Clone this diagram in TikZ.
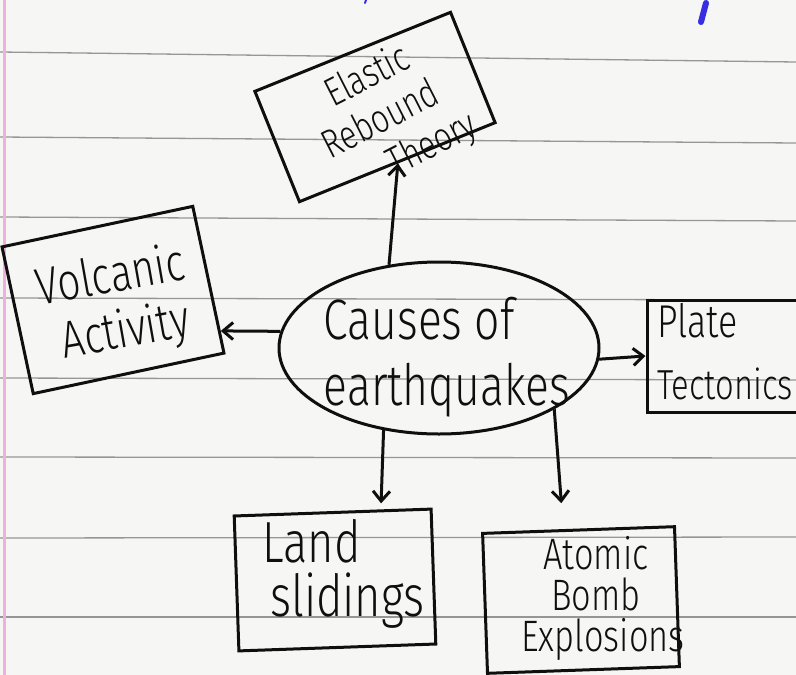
\documentclass[tikz,border=0pt]{standalone}
\usepackage{fontspec}
\newfontfamily\hand[FakeStretch=0.78]{Fira Sans Light}
\usetikzlibrary{arrows.meta,shapes.geometric}
\definecolor{paper}{RGB}{246,246,244}
\definecolor{ruleline}{RGB}{150,150,150}
\definecolor{margin}{RGB}{240,175,225}
\definecolor{pen}{RGB}{55,45,225}
\definecolor{ink}{RGB}{15,15,15}
\tikzset{
  inkline/.style={draw=ink, line width=3pt},
  boxnode/.style={inkline, rectangle, inner sep=0pt},
  handtext/.style={inner sep=0pt, text=ink},
  arr/.style={inkline, -{Straight Barb[length=10pt,width=17pt]}},
  ruled/.style={draw=ruleline, line width=1.3pt},
}
\begin{document}
\begin{tikzpicture}[x=1pt,y=-1pt]
\clip (0,0) rectangle (796,675);
\fill[paper] (0,0) rectangle (796,675);
% ruled paper
\foreach \a/\b in {52/62,137/143,217/221,298/300,378/380,457/458,538/537,617/617}
  \draw[ruled] (0,\a) -- (796,\b);
\draw[margin, line width=3pt] (4,0) -- (4,675);
% pen marks
\draw[pen, line width=6pt, line cap=round] (706,3) -- (701,22);
\draw[pen, line width=2pt, line cap=round] (366,0) -- (365,3);

% central node
\node[ellipse, inkline, minimum width=320pt, minimum height=172pt, inner sep=0pt] (cause) at (439,348) {};
\node[handtext, align=left, font=\hand\fontsize{57}{66}\selectfont] (causetext) at (447,357) {Causes of\\earthquakes};

% boxes
\node[boxnode, rotate=22, minimum width=211pt, minimum height=119pt] (elastic) at (375,107) {};
\node[handtext, rotate=27, align=center, font=\hand\fontsize{40}{45}\selectfont] (elastictext) at (381,121) {\hspace*{16pt}Elastic\\Rebound\\\hspace*{70pt}Theory};

\node[boxnode, rotate=12, minimum width=195pt, minimum height=150pt] (volcanic) at (113,300) {};
\node[handtext, rotate=10, align=left, font=\hand\fontsize{52}{56}\selectfont] (volcanictext) at (116,306) {Volcanic\\\hspace*{15pt}Activity};

\node[boxnode, minimum width=200pt, minimum height=112pt] (plate) at (747,356) {};
\node[handtext, anchor=west, align=left, font=\hand\fontsize{42}{62}\selectfont] (platetext) at (657,352) {\fontsize{46}{62}\selectfont Plate\\Tectonics};

\node[boxnode, rotate=2, minimum width=197pt, minimum height=135pt] (land) at (335,580) {};
\node[handtext, anchor=west, align=left, font=\hand\fontsize{58}{54}\selectfont] (landtext) at (262,574) {Land\\\hspace*{8pt}slidings};

\node[boxnode, rotate=2, minimum width=192pt, minimum height=140pt] (atomic) at (581,600) {};
\node[handtext, align=center, font=\hand\fontsize{44}{41}\selectfont] (atomictext) at (596,598) {Atomic\\Bomb\\\hspace*{14pt}Explosions};

% connectors
\draw[arr] (cause.121) -- (elastic.south);
\draw[arr] (cause.174) -- (volcanic.-28);
\draw[arr] (cause.-4) -- (plate.west);
\draw[arr, shorten >=6pt] (cause.236) -- (land.55);
\draw[arr, shorten >=26pt] (cause.-28) -- (atomic.102);
\end{tikzpicture}
\end{document}
